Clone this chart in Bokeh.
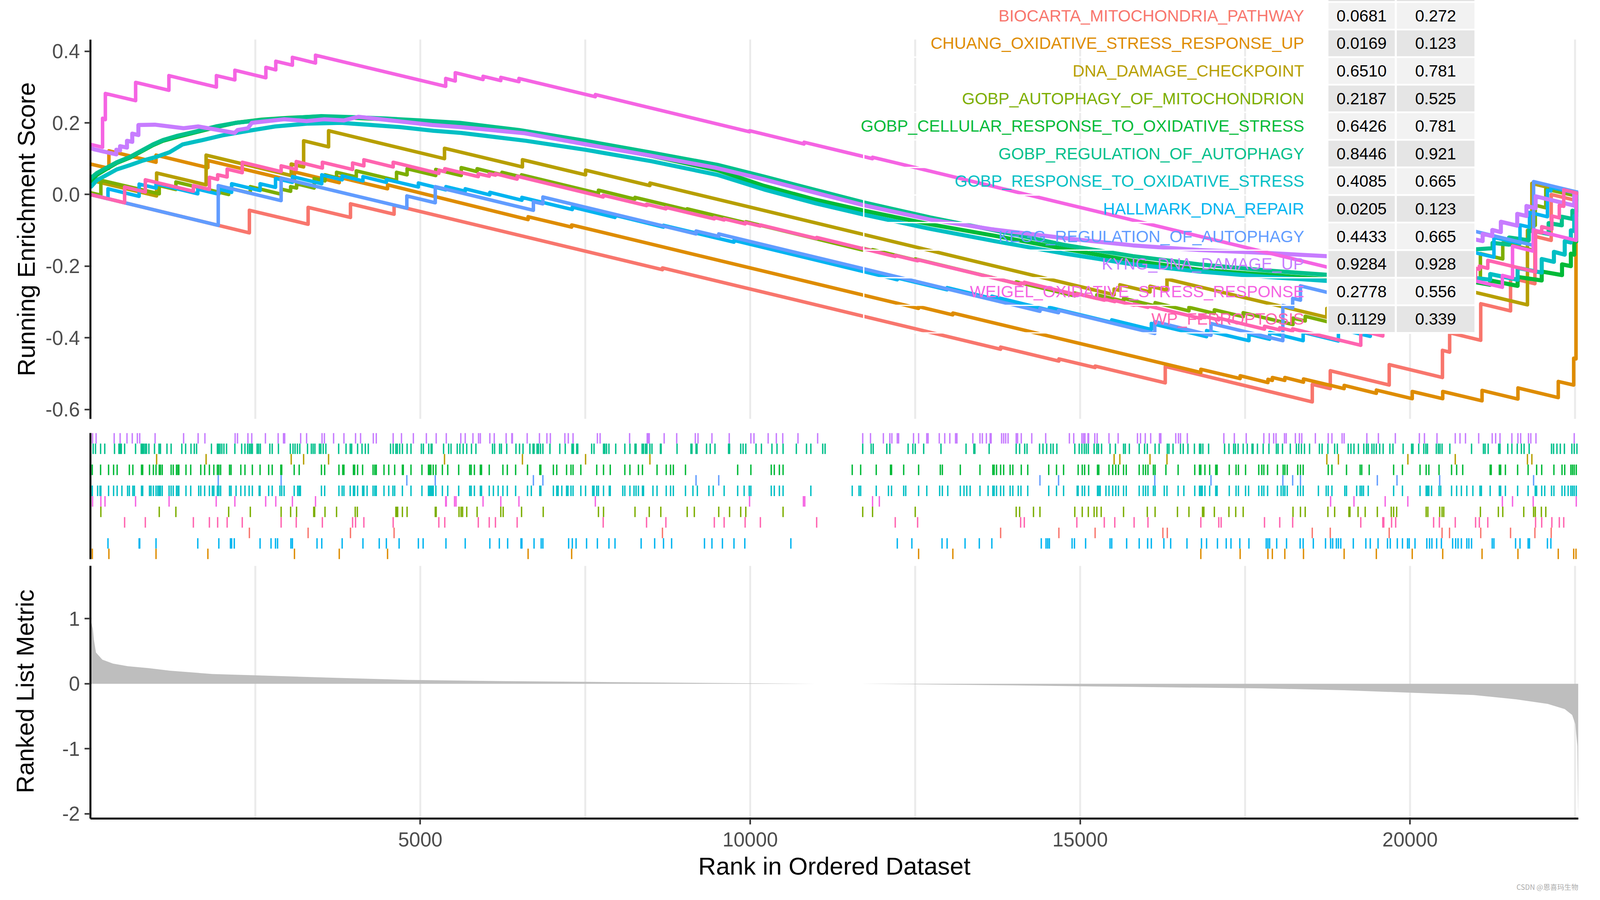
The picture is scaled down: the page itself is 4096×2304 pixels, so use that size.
import math
from bokeh.plotting import figure
from bokeh.layouts import row, column
from bokeh.models import Range1d, FixedTicker, Title, BasicTickFormatter
from bokeh.embed import file_html
from bokeh.resources import INLINE
from bokeh.core.properties import value

FONT = "Liberation Sans"

# ------------------------------------------------------------------ data
N_GENES = 22550

GENE_SETS = [
    "BIOCARTA_MITOCHONDRIA_PATHWAY",
    "CHUANG_OXIDATIVE_STRESS_RESPONSE_UP",
    "DNA_DAMAGE_CHECKPOINT",
    "GOBP_AUTOPHAGY_OF_MITOCHONDRION",
    "GOBP_CELLULAR_RESPONSE_TO_OXIDATIVE_STRESS",
    "GOBP_REGULATION_OF_AUTOPHAGY",
    "GOBP_RESPONSE_TO_OXIDATIVE_STRESS",
    "HALLMARK_DNA_REPAIR",
    "KEGG_REGULATION_OF_AUTOPHAGY",
    "KYNG_DNA_DAMAGE_UP",
    "WEIGEL_OXIDATIVE_STRESS_RESPONSE",
    "WP_FERROPTOSIS",
]
SET_COLORS = ["#F8766D", "#DE8C00", "#B79F00", "#7CAE00", "#00BA38", "#00C08B",
              "#00BFC4", "#00B4F0", "#619CFF", "#C77CFF", "#F564E3", "#FF64B0"]
PVALUES = ["0.0681", "0.0169", "0.6510", "0.2187", "0.6426", "0.8446",
           "0.4085", "0.0205", "0.4433", "0.9284", "0.2778", "0.1129"]
PADJUST = ["0.272", "0.123", "0.781", "0.525", "0.781", "0.921",
           "0.665", "0.123", "0.665", "0.928", "0.556", "0.339"]
# gene sets with many hits draw as a dense (thicker, fuzzy) band
DENSE_SETS = [4, 5, 6, 9]

# running enrichment score vertices (rank, ES)
ES_BIOCARTA = [(1, 0.0), (2410, -0.107), (2410, -0.044), (3300, -0.083), (3300, -0.036),
    (3942, -0.064), (3942, -0.026), (4603, -0.055), (4603, -0.030), (8670, -0.210), (8670, -0.205),
    (13795, -0.432), (13795, -0.426), (14678, -0.465), (14678, -0.459), (15227, -0.483), (15227, -0.479),
    (16290, -0.526), (16290, -0.480), (18518, -0.579), (18518, -0.530), (18791, -0.542), (18791, -0.492),
    (19684, -0.532), (19684, -0.475), (20491, -0.511), (20491, -0.435), (20600, -0.440), (20600, -0.386),
    (21071, -0.407), (21071, -0.305), (21523, -0.325), (21523, -0.233), (21892, -0.249), (21892, -0.117),
    (22139, -0.128), (22139, 0.0), (22550, -0.018)]
ES_CHUANG = [(1, 0.085), (281, 0.073), (281, 0.122), (995, 0.090), (995, 0.110), (1781, 0.075),
    (1781, 0.095), (3093, 0.037), (3093, 0.063), (3772, 0.033), (3772, 0.048), (4504, 0.016), (4504, 0.027),
    (6634, -0.070), (6634, -0.062), (7294, -0.091), (7294, -0.085), (12552, -0.318), (12552, -0.313),
    (13071, -0.336), (13071, -0.331), (16829, -0.497), (16829, -0.488), (17425, -0.514), (17425, -0.506),
    (17846, -0.525), (17846, -0.516), (17913, -0.519), (17913, -0.511), (18102, -0.519), (18102, -0.511),
    (18385, -0.524), (18385, -0.515), (19001, -0.542), (19001, -0.533), (19489, -0.555), (19489, -0.546),
    (20033, -0.570), (20033, -0.550), (20495, -0.570), (20495, -0.550), (21091, -0.576), (21091, -0.547),
    (21635, -0.571), (21635, -0.540), (22246, -0.567), (22246, -0.522), (22480, -0.532), (22480, -0.457),
    (22515, -0.459), (22515, -0.010), (22550, -0.010)]
ES_DNA_DAMAGE = [(1, 0.040), (1004, -0.004), (1004, 0.060), (1754, 0.027), (1754, 0.110),
    (3044, 0.053), (3044, 0.085), (3232, 0.077), (3232, 0.150), (3610, 0.133), (3610, 0.178),
    (5367, 0.100), (5367, 0.129), (6548, 0.077), (6548, 0.097), (7505, 0.055), (7505, 0.068),
    (8480, 0.025), (8480, 0.032), (15515, -0.280), (15515, -0.264), (15602, -0.268), (15602, -0.252),
    (16059, -0.272), (16059, -0.256), (16316, -0.267), (16316, -0.236), (18739, -0.343), (18739, -0.318),
    (18914, -0.326), (18914, -0.300), (19967, -0.347), (19967, -0.300), (20685, -0.332), (20685, -0.260),
    (21779, -0.308), (21779, -0.100), (21846, -0.103), (21846, 0.031), (22550, 0.0)]
ES_AUTOPHAGY_MITO = [(1, 0.005), (159, -0.002), (159, 0.040), (1044, 0.002), (1044, 0.025),
    (1296, 0.014), (1296, 0.035), (2096, 0.000), (2096, 0.018), (2424, 0.004), (2424, 0.022),
    (2891, 0.001), (2891, 0.015), (3035, 0.009), (3035, 0.022), (3125, 0.018), (3125, 0.030),
    (3392, 0.018), (3392, 0.045), (3556, 0.038), (3556, 0.055), (3731, 0.047), (3731, 0.062),
    (4030, 0.049), (4030, 0.066), (4640, 0.039), (4640, 0.062), (4800, 0.055), (4800, 0.072),
    (5234, 0.053), (5234, 0.070), (5620, 0.053), (5620, 0.075), (5861, 0.064), (5861, 0.072),
    (6238, 0.055), (6238, 0.062), (6535, 0.049), (6535, 0.055), (7700, 0.003), (7700, 0.012),
    (8254, -0.013), (8254, -0.008), (9045, -0.043), (9045, -0.040), (9933, -0.079), (9933, -0.076),
    (11705, -0.155), (11705, -0.150), (11854, -0.157), (11854, -0.154), (12501, -0.183), (12501, -0.180),
    (14031, -0.248), (14031, -0.244), (14919, -0.283), (14919, -0.275), (15253, -0.290), (15253, -0.280),
    (15658, -0.298), (15658, -0.290), (16136, -0.311), (16136, -0.302), (16649, -0.325), (16649, -0.315),
    (17034, -0.332), (17034, -0.322), (17471, -0.341), (17471, -0.330), (18226, -0.363), (18226, -0.345),
    (18411, -0.353), (18411, -0.340), (18857, -0.360), (18857, -0.335), (19212, -0.351), (19212, -0.320),
    (19504, -0.333), (19504, -0.300), (19797, -0.313), (19797, -0.280), (20270, -0.301), (20270, -0.255),
    (20511, -0.266), (20511, -0.215), (21066, -0.240), (21066, -0.165), (21405, -0.180), (21405, -0.135),
    (21872, -0.156), (21872, -0.085), (21898, -0.086), (21898, -0.030), (22057, -0.037), (22057, 0.015),
    (22550, -0.005)]
ES_CELLULAR = [(1, 0.035), (100, 0.055), (250, 0.072), (400, 0.088), (600, 0.103), (800, 0.123),
    (950, 0.138), (1100, 0.150), (1300, 0.160), (1600, 0.174), (1900, 0.188), (2200, 0.200),
    (2600, 0.209), (3000, 0.214), (3500, 0.218), (4000, 0.214), (4500, 0.210), (5000, 0.205),
    (5600, 0.196), (6500, 0.175), (7500, 0.143), (8500, 0.108), (9500, 0.068), (10211, 0.024),
    (11000, -0.015), (11720, -0.045), (12727, -0.083), (13700, -0.115), (14768, -0.152),
    (15800, -0.185), (16800, -0.210), (17817, -0.224), (18732, -0.236), (19500, -0.245),
    (20200, -0.248), (20998, -0.245), (21214, -0.252), (21214, -0.240), (21630, -0.255), (21630, -0.230),
    (21995, -0.240), (21995, -0.215), (22303, -0.225), (22303, -0.195), (22437, -0.200), (22437, -0.165),
    (22488, -0.168), (22488, -0.130), (22519, -0.131), (22519, 0.002), (22550, 0.0)]
ES_REG_AUTOPHAGY = [(1, 0.045), (100, 0.060), (250, 0.075), (400, 0.090), (600, 0.105), (800, 0.125),
    (950, 0.140), (1100, 0.152), (1300, 0.163), (1600, 0.176), (1900, 0.190), (2200, 0.200),
    (2600, 0.208), (3000, 0.213), (3500, 0.219), (4000, 0.216), (4500, 0.212), (5000, 0.207),
    (5600, 0.200), (6500, 0.180), (7500, 0.150), (8500, 0.117), (9500, 0.083), (10211, 0.050),
    (11000, 0.012), (11720, -0.022), (12727, -0.064), (13700, -0.100), (14768, -0.141),
    (15800, -0.172), (16800, -0.195), (17817, -0.212), (18732, -0.224), (19500, -0.228),
    (20200, -0.195), (20998, -0.153), (21250, -0.150), (21250, -0.135), (21500, -0.140), (21500, -0.120),
    (21800, -0.128), (21800, -0.100), (22100, -0.110), (22100, -0.080), (22300, -0.086), (22300, -0.062),
    (22460, -0.068), (22460, -0.045), (22520, -0.048), (22520, 0.003), (22550, 0.0)]
ES_RESPONSE = [(1, 0.020), (100, 0.040), (250, 0.055), (400, 0.070), (600, 0.082), (800, 0.095),
    (1000, 0.105), (1200, 0.118), (1400, 0.140), (1700, 0.152), (2000, 0.165), (2400, 0.178),
    (2800, 0.190), (3300, 0.198), (3800, 0.200), (4200, 0.195), (4700, 0.188), (5200, 0.178),
    (5619, 0.172), (6600, 0.150), (7500, 0.125), (8500, 0.093), (9500, 0.055), (10211, 0.014),
    (11000, -0.025), (11720, -0.056), (12727, -0.096), (13700, -0.130), (14768, -0.165),
    (15800, -0.195), (16800, -0.215), (17817, -0.230), (18732, -0.241), (19500, -0.250),
    (20200, -0.245), (20998, -0.233), (21214, -0.238), (21214, -0.222), (21630, -0.238), (21630, -0.205),
    (21995, -0.218), (21995, -0.180), (22180, -0.188), (22180, -0.160), (22344, -0.168), (22344, -0.130),
    (22437, -0.134), (22437, -0.100), (22488, -0.102), (22488, -0.060), (22519, -0.061), (22519, 0.002),
    (22550, 0.0)]
ES_HALLMARK = [(1, 0.0), (267, -0.012), (267, 0.016), (739, -0.005), (739, 0.029), (995, 0.018),
    (995, 0.030), (1628, 0.002), (1628, 0.015), (1947, 0.001), (1947, 0.015), (2141, 0.006),
    (2141, 0.030), (2572, 0.011), (2572, 0.030), (2806, 0.020), (2806, 0.045), (3062, 0.034),
    (3062, 0.050), (3507, 0.030), (3507, 0.055), (3816, 0.041), (3816, 0.052), (4131, 0.038),
    (4131, 0.050), (4486, 0.034), (4486, 0.042), (4971, 0.021), (4971, 0.032), (5389, 0.013),
    (5389, 0.022), (5681, 0.009), (5681, 0.016), (6054, -0.001), (6054, 0.006), (6540, -0.016),
    (6540, -0.008), (7304, -0.042), (7304, -0.035), (7951, -0.064), (7951, -0.058), (8686, -0.091),
    (8686, -0.086), (9754, -0.133), (9754, -0.128), (12229, -0.238), (12229, -0.233), (12984, -0.266),
    (12984, -0.260), (13662, -0.290), (13662, -0.284), (14534, -0.323), (14534, -0.315),
    (15479, -0.357), (15479, -0.350), (16079, -0.377), (16079, -0.360), (16916, -0.397), (16916, -0.380),
    (17558, -0.408), (17558, -0.390), (17872, -0.404), (17872, -0.385), (18380, -0.408), (18380, -0.385),
    (18914, -0.409), (18914, -0.375), (19397, -0.396), (19397, -0.350), (19885, -0.372), (19885, -0.320),
    (20331, -0.340), (20331, -0.280), (20727, -0.298), (20727, -0.235), (20932, -0.244), (20932, -0.160),
    (21271, -0.175), (21271, -0.120), (21666, -0.137), (21666, -0.085), (21810, -0.091), (21810, -0.050),
    (22082, -0.062), (22082, 0.012), (22134, 0.010), (22134, 0.020), (22550, 0.002)]
ES_KEGG = [(1, 0.0), (1938, -0.086), (1938, 0.025), (2891, -0.017), (2891, 0.046), (4796, -0.038),
    (4796, -0.004), (5227, -0.023), (5227, 0.022), (6714, -0.044), (6714, -0.020), (6858, -0.026),
    (6858, -0.007), (9179, -0.110), (9179, -0.102), (9523, -0.117), (9523, -0.110), (14391, -0.326),
    (14391, -0.318), (14673, -0.330), (14673, -0.323), (16131, -0.388), (16131, -0.355),
    (16983, -0.393), (16983, -0.360), (18072, -0.408), (18072, -0.310), (18221, -0.317), (18221, -0.290),
    (18339, -0.295), (18339, -0.255), (19504, -0.307), (19504, -0.240), (19802, -0.253), (19802, -0.170),
    (20449, -0.199), (20449, -0.079), (21872, -0.142), (21872, 0.036), (22550, 0.006)]
ES_KYNG = [(1, 0.130), (60, 0.126), (394, 0.112), (394, 0.125), (450, 0.123), (450, 0.135),
    (555, 0.131), (555, 0.150), (635, 0.147), (635, 0.170), (728, 0.166), (728, 0.194), (978, 0.195),
    (1413, 0.185), (1633, 0.190), (2187, 0.172), (2230, 0.180), (2388, 0.185), (2446, 0.200),
    (2938, 0.210), (3277, 0.205), (3547, 0.210), (3843, 0.207), (4064, 0.217), (4500, 0.208),
    (5182, 0.194), (5619, 0.188), (6581, 0.171), (7543, 0.139), (8506, 0.108), (9468, 0.075),
    (10211, 0.042), (11720, -0.030), (12727, -0.070), (13700, -0.098), (14768, -0.122),
    (15800, -0.142), (16800, -0.155), (17817, -0.163), (18732, -0.172), (19500, -0.170),
    (20200, -0.150), (20998, -0.126), (21100, -0.130), (21100, -0.110), (21246, -0.116), (21246, -0.099),
    (21376, -0.105), (21376, -0.076), (21624, -0.087), (21624, -0.054), (21764, -0.060), (21764, -0.032),
    (21903, -0.038), (21903, -0.005), (22488, -0.031), (22488, 0.001), (22550, -0.002)]
ES_WEIGEL = [(1, 0.140), (185, 0.132), (185, 0.213), (227, 0.209), (227, 0.282), (686, 0.262),
    (686, 0.313), (1190, 0.291), (1190, 0.332), (1910, 0.300), (1910, 0.332), (2190, 0.320),
    (2190, 0.347), (2660, 0.326), (2660, 0.355), (2810, 0.348), (2810, 0.372), (3062, 0.361),
    (3062, 0.383), (3412, 0.367), (3412, 0.389), (5385, 0.302), (5385, 0.324), (5530, 0.317),
    (5530, 0.340), (5951, 0.321), (5951, 0.330), (6220, 0.318), (6220, 0.327), (6495, 0.315),
    (6495, 0.324), (7653, 0.273), (7653, 0.279), (9990, 0.175), (9990, 0.178), (10816, 0.141),
    (10816, 0.146), (11854, 0.100), (11854, 0.104), (18796, -0.205), (18796, -0.190), (19150, -0.206),
    (19150, -0.190), (19623, -0.211), (19623, -0.195), (19966, -0.210), (19966, -0.196),
    (21399, -0.259), (21399, -0.226), (21553, -0.233), (21553, -0.144), (21866, -0.158), (21866, -0.099),
    (22519, -0.128), (22519, 0.001), (22550, 0.0)]
ES_WP = [(1, 0.0), (519, -0.023), (519, 0.021), (833, 0.007), (833, 0.041), (1561, 0.009),
    (1561, 0.025), (1804, 0.014), (1804, 0.048), (1929, 0.042), (1929, 0.055), (2073, 0.049),
    (2073, 0.071), (2302, 0.061), (2302, 0.090), (2891, 0.064), (2891, 0.080), (3120, 0.070),
    (3120, 0.092), (3516, 0.074), (3516, 0.090), (3974, 0.070), (3974, 0.088), (4145, 0.080),
    (4145, 0.097), (4589, 0.077), (4589, 0.090), (5281, 0.059), (5281, 0.068), (5371, 0.064),
    (5371, 0.072), (5879, 0.050), (5879, 0.058), (6045, 0.051), (6045, 0.058), (6139, 0.054),
    (6139, 0.058), (6468, 0.043), (6468, 0.051), (7772, -0.007), (7772, -0.002), (8429, -0.031),
    (8429, -0.027), (8722, -0.040), (8722, -0.036), (9456, -0.068), (9456, -0.064), (9605, -0.071),
    (9605, -0.068), (9923, -0.082), (9923, -0.078), (10154, -0.088), (10154, -0.085), (11007, -0.123),
    (11007, -0.120), (12198, -0.173), (12198, -0.170), (12537, -0.185), (12537, -0.182),
    (14098, -0.251), (14098, -0.247), (14154, -0.249), (14154, -0.245), (14950, -0.280), (14950, -0.277),
    (15366, -0.295), (15366, -0.292), (15525, -0.299), (15525, -0.296), (15818, -0.309), (15818, -0.306),
    (16028, -0.315), (16028, -0.311), (16829, -0.346), (16829, -0.338), (17101, -0.350), (17101, -0.345),
    (17794, -0.376), (17794, -0.368), (18025, -0.378), (18025, -0.372), (18221, -0.381), (18221, -0.375),
    (19253, -0.421), (19253, -0.380), (19587, -0.395), (19587, -0.350), (19602, -0.351), (19602, -0.330),
    (19720, -0.335), (19720, -0.300), (19782, -0.303), (19782, -0.280), (20357, -0.305), (20357, -0.260),
    (20444, -0.264), (20444, -0.240), (20685, -0.251), (20685, -0.220), (20993, -0.234), (20993, -0.206),
    (21050, -0.209), (21050, -0.200), (21178, -0.206), (21178, -0.184), (21902, -0.216), (21902, -0.103),
    (21995, -0.107), (21995, -0.090), (22149, -0.097), (22149, -0.060), (22262, -0.065), (22262, -0.030),
    (22329, -0.033), (22329, 0.013), (22550, 0.003)]

ES_CURVES = [ES_BIOCARTA, ES_CHUANG, ES_DNA_DAMAGE, ES_AUTOPHAGY_MITO, ES_CELLULAR, ES_REG_AUTOPHAGY,
             ES_RESPONSE, ES_HALLMARK, ES_KEGG, ES_KYNG, ES_WEIGEL, ES_WP]

# gene-set hit positions (rug)
HITS_BIOCARTA = [2410, 3300, 3942, 4603, 8670, 13795, 14678, 15227, 16254, 16321, 18518, 18791, 19684,
    20485, 20598, 21071, 21523, 21892, 22139]
HITS_CHUANG = [30, 281, 995, 1781, 3093, 3772, 4504, 6634, 7294, 12552, 13071, 16829, 17425, 17846,
    17913, 18102, 18385, 19001, 19489, 20033, 20495, 21091, 21635, 22246, 22480, 22515]
HITS_DNA_DAMAGE = [1004, 1754, 3044, 3232, 3610, 5367, 6548, 7505, 8480, 15515, 15602, 16059, 16316,
    18739, 18914, 19967, 20685, 21779, 21846]
HITS_AUTOPHAGY_MITO = [159, 1044, 1296, 2096, 2424, 2891, 3035, 3125, 3385, 3399, 3556, 3731, 4014, 4046,
    4630, 4643, 4657, 4729, 4800, 5227, 5241, 5587, 5618, 5641, 5704, 5861, 6220, 6256, 6535, 6863, 7700,
    7777, 8254, 8470, 8645, 9045, 9153, 9523, 9687, 9856, 9933, 10498, 11705, 11854, 12501, 14031, 14083,
    14293, 14391, 14919, 15032, 15124, 15212, 15253, 15319, 15658, 16018, 16136, 16475, 16649, 16855,
    16875, 17034, 17255, 17358, 17471, 18226, 18339, 18411, 18755, 18857, 19073, 19089, 19212, 19320,
    19504, 19715, 19751, 19797, 20244, 20270, 20449, 20485, 20511, 21066, 21338, 21405, 21723, 21872,
    21898, 21990, 22057]
HITS_CELLULAR = [29, 155, 276, 352, 406, 591, 644, 775, 793, 896, 955, 995, 1044, 1062, 1089, 1224, 1256,
    1305, 1327, 1341, 1449, 1521, 1673, 1732, 1804, 1871, 1925, 1947, 1974, 2109, 2132, 2280, 2343, 2455,
    2572, 2702, 2756, 2886, 2900, 3089, 3165, 3502, 3551, 3767, 3825, 3843, 3987, 4005, 4050, 4126, 4284,
    4311, 4333, 4450, 4522, 4612, 4729, 4742, 4859, 5025, 5124, 5142, 5160, 5196, 5236, 5335, 5416, 5582,
    5749, 5771, 5820, 5910, 5928, 6045, 6252, 6319, 6445, 6625, 6811, 6827, 7017, 7068, 7217, 7284, 7315,
    7433, 7674, 7777, 7879, 8100, 8177, 8306, 8367, 8588, 8727, 8793, 8835, 9019, 9810, 10010, 10319,
    10365, 10442, 10498, 11546, 11674, 11910, 12126, 12142, 12326, 12552, 12881, 12912, 13184, 13482,
    13677, 13697, 13733, 13795, 13841, 13939, 13980, 14108, 14206, 14524, 14642, 14749, 14970, 15032,
    15068, 15129, 15263, 15283, 15437, 15494, 15540, 15581, 15658, 15699, 15895, 15956, 15992, 16028,
    16110, 16136, 16300, 16485, 16737, 16809, 16829, 16891, 16963, 17055, 17076, 17260, 17363, 17399,
    17507, 17707, 17753, 17784, 17841, 17990, 18077, 18103, 18139, 18298, 18339, 18380, 18760, 18816,
    19037, 19243, 19268, 19381, 19751, 19885, 20151, 20244, 20285, 20439, 20629, 20706, 20798, 21214,
    21230, 21353, 21373, 21445, 21630, 21789, 21918, 21995, 22180, 22303, 22344, 22437, 22462, 22488,
    22519]
HITS_REG_AUTOPHAGY = [42, 78, 155, 218, 366, 433, 451, 469, 519, 685, 770, 788, 806, 829, 851, 887, 972,
    1040, 1062, 1161, 1224, 1386, 1444, 1525, 1575, 1610, 1835, 1925, 1943, 1965, 1992, 2024, 2064, 2190,
    2293, 2343, 2383, 2410, 2433, 2455, 2527, 2550, 2576, 2720, 2756, 2850, 3030, 3071, 3102, 3138, 3174,
    3291, 3349, 3376, 3403, 3471, 3493, 3529, 3569, 3763, 3875, 3938, 3960, 4050, 4117, 4167, 4212, 4549,
    4589, 4630, 4652, 4688, 4729, 4800, 4859, 5016, 5047, 5128, 5164, 5178, 5353, 5430, 5466, 5560, 5600,
    5650, 5704, 5776, 5843, 6095, 6126, 6202, 6229, 6310, 6450, 6504, 6557, 6661, 6709, 6724, 6770, 6791,
    6822, 6858, 6965, 7114, 7197, 7299, 7320, 7371, 7386, 7597, 7633, 7777, 7797, 7823, 7859, 7962, 8100,
    8177, 8254, 8270, 8362, 8383, 8413, 8434, 8480, 8511, 8639, 8650, 8891, 9102, 9117, 9179, 9194, 9338,
    9394, 9466, 9672, 9687, 9856, 9892, 9933, 10088, 10170, 10329, 10406, 10498, 10699, 10853, 10919,
    11099, 11135, 11705, 11833, 11864, 12070, 12116, 12393, 12465, 12501, 12629, 12891, 13271, 13389,
    13405, 13621, 14031, 14083, 14160, 14195, 14385, 14437, 14493, 14555, 14591, 14647, 14919, 14986,
    15027, 15063, 15093, 15124, 15212, 15253, 15278, 15325, 15453, 15535, 15658, 15684, 15746, 15895,
    15977, 16018, 16136, 16197, 16321, 16346, 16408, 16521, 16562, 16634, 16732, 16809, 16829, 16860,
    16947, 17189, 17255, 17327, 17353, 17394, 17471, 17533, 17605, 17620, 17687, 17774, 17861, 17974,
    18000, 18067, 18185, 18277, 18313, 18354, 18400, 18477, 18626, 18667, 18755, 18857, 18898, 19063,
    19104, 19150, 19217, 19299, 19340, 19366, 19422, 19453, 19489, 19540, 19592, 19694, 19741, 19895,
    20023, 20044, 20131, 20208, 20239, 20264, 20398, 20429, 20454, 20485, 20603, 20932, 21112, 21137,
    21184, 21343, 21363, 21481, 21543, 21625, 21687, 21728, 21805, 22144, 22175, 22226, 22277, 22339,
    22452, 22488, 22529]
HITS_RESPONSE = [29, 110, 146, 159, 276, 352, 406, 478, 564, 591, 644, 667, 775, 793, 896, 919, 955, 995,
    1022, 1044, 1062, 1089, 1193, 1224, 1256, 1305, 1327, 1341, 1449, 1521, 1642, 1673, 1732, 1804, 1849,
    1871, 1925, 1947, 1974, 2109, 2132, 2208, 2280, 2343, 2406, 2455, 2558, 2572, 2702, 2756, 2873, 2900,
    2936, 3089, 3142, 3165, 3183, 3502, 3551, 3767, 3816, 3843, 3938, 3987, 4005, 4050, 4126, 4145, 4194,
    4284, 4311, 4333, 4450, 4522, 4585, 4612, 4729, 4859, 5025, 5124, 5142, 5160, 5178, 5196, 5236, 5335,
    5416, 5582, 5749, 5771, 5820, 5910, 5928, 6045, 6108, 6180, 6252, 6319, 6445, 6625, 6683, 6811, 6827,
    7017, 7068, 7089, 7145, 7217, 7238, 7284, 7315, 7433, 7505, 7612, 7633, 7674, 7700, 7777, 7864, 7879,
    8069, 8100, 8177, 8239, 8270, 8306, 8367, 8383, 8526, 8588, 8727, 8793, 8835, 9019, 9132, 9199, 9374,
    9440, 9605, 9810, 9908, 9985, 10010, 10319, 10365, 10442, 10498, 10919, 11546, 11649, 11674, 11910,
    12095, 12142, 12326, 12357, 12552, 12676, 12871, 12912, 12994, 13184, 13240, 13282, 13333, 13482,
    13605, 13677, 13697, 13733, 13795, 13841, 13939, 13980, 14062, 14103, 14206, 14524, 14642, 14749,
    14955, 14970, 15032, 15068, 15129, 15263, 15283, 15304, 15391, 15437, 15494, 15540, 15581, 15658,
    15699, 15895, 15956, 15992, 16028, 16110, 16136, 16275, 16316, 16485, 16572, 16737, 16809, 16829,
    16850, 16891, 16963, 17055, 17076, 17260, 17363, 17399, 17507, 17553, 17707, 17753, 17784, 17841,
    17990, 18046, 18077, 18103, 18139, 18298, 18339, 18380, 18611, 18729, 18760, 18816, 19011, 19037,
    19191, 19243, 19268, 19294, 19366, 19751, 19885, 20151, 20244, 20264, 20285, 20326, 20439, 20465,
    20629, 20706, 20778, 20860, 20952, 21060, 21081, 21214, 21353, 21373, 21445, 21630, 21789, 21897,
    21918, 21995, 22041, 22144, 22180, 22303, 22344, 22396, 22437, 22462, 22488, 22519]
HITS_HALLMARK = [267, 739, 748, 995, 1628, 1947, 2123, 2141, 2181, 2572, 2738, 2806, 2837, 3039, 3062,
    3435, 3507, 3816, 4131, 4378, 4486, 4679, 4971, 5043, 5389, 5681, 6054, 6198, 6324, 6526, 6540, 6724,
    6832, 6858, 7248, 7304, 7361, 7520, 7684, 7859, 7951, 8347, 8552, 8686, 8809, 9307, 9420, 9579, 9754,
    9918, 10616, 12229, 12450, 12907, 12984, 13256, 13472, 13662, 14411, 14483, 14509, 14534, 14878,
    14914, 15083, 15453, 15479, 15705, 15895, 16023, 16079, 16269, 16372, 16619, 16839, 16916, 17081,
    17214, 17286, 17420, 17558, 17820, 17846, 17872, 17979, 18128, 18334, 18380, 18534, 18719, 18796,
    18827, 18883, 18914, 18950, 19140, 19330, 19397, 19515, 19658, 19700, 19807, 19885, 19962, 19987,
    20075, 20254, 20295, 20331, 20403, 20475, 20645, 20691, 20727, 20778, 20860, 20891, 20932, 21245,
    21271, 21599, 21666, 21789, 21810, 22082, 22134]
HITS_KEGG = [1938, 2891, 4796, 5227, 6714, 6858, 9179, 9523, 14391, 14673, 16131, 16983, 18072, 18221,
    18339, 19504, 19802, 20449, 21872]
HITS_KYNG = [33, 87, 361, 451, 555, 635, 712, 748, 981, 1413, 1633, 1736, 2194, 2230, 2388, 2446, 2653,
    2846, 2927, 2945, 3187, 3277, 3511, 3547, 3686, 3843, 4019, 4095, 4288, 4333, 4589, 4715, 4895, 5092,
    5241, 5394, 5614, 5681, 5798, 5883, 5910, 6054, 6121, 6301, 6387, 6396, 6620, 6806, 6919, 6971, 7191,
    7243, 7315, 7684, 7725, 8172, 8439, 8455, 8470, 8696, 8886, 9168, 9209, 9420, 9682, 10010, 10057,
    10272, 10396, 10493, 10724, 11022, 11705, 11823, 12018, 12116, 12147, 12229, 12249, 12475, 12552,
    12676, 12696, 12865, 12948, 13025, 13112, 13133, 13374, 13482, 13518, 13579, 13636, 13651, 13810,
    13841, 13872, 13908, 14031, 14052, 14108, 14267, 14478, 14837, 14903, 15027, 15052, 15073, 15119,
    15129, 15222, 15258, 15437, 15576, 15869, 15915, 15987, 16069, 16203, 16223, 16449, 16490, 16521,
    16624, 17178, 17337, 17517, 17784, 17866, 17933, 17969, 18097, 18123, 18262, 18323, 18359, 18565,
    18760, 18816, 18970, 19001, 19345, 19520, 19777, 20141, 20218, 20408, 20685, 20757, 20840, 21040,
    21245, 21297, 21363, 21543, 21635, 21676, 21795, 21830, 21908, 22488]
HITS_WEIGEL = [33, 159, 222, 685, 1193, 1907, 2190, 2657, 2810, 3062, 3412, 5385, 5394, 5519, 5542, 5951,
    6220, 6495, 7653, 9990, 10806, 10827, 11854, 11957, 18796, 19150, 19623, 19966, 21399, 21553, 21866,
    22519]
HITS_WP = [519, 833, 1561, 1804, 1929, 2073, 2302, 2891, 3120, 3516, 3974, 4019, 4145, 4589, 5281, 5371,
    5879, 6045, 6139, 6468, 7772, 8429, 8722, 9456, 9605, 9923, 10154, 11007, 12198, 12537, 14098, 14154,
    14950, 15366, 15525, 15818, 16028, 16829, 17101, 17137, 17794, 18025, 18221, 19253, 19587, 19602,
    19720, 19782, 20357, 20444, 20685, 20993, 21050, 21178, 21902, 21995, 22149, 22262, 22329]

HITS = [HITS_BIOCARTA, HITS_CHUANG, HITS_DNA_DAMAGE, HITS_AUTOPHAGY_MITO, HITS_CELLULAR,
        HITS_REG_AUTOPHAGY, HITS_RESPONSE, HITS_HALLMARK, HITS_KEGG, HITS_KYNG, HITS_WEIGEL, HITS_WP]
# rug rows from top to bottom (indices into GENE_SETS)
RUG_ORDER = [9, 5, 2, 4, 8, 6, 10, 3, 11, 0, 7, 1]

# ranked list metric (rank, value)
METRIC_RANK = [1, 37, 53, 85, 182, 342, 567, 887, 1208, 1850, 2492, 3672, 4800, 6300, 7900, 9500,
               10980, 11684, 12500, 14000, 15500, 17756, 19000, 20001, 20964, 21606, 22087, 22344,
               22456, 22504, 22536, 22546, 22550]
METRIC_VALUE = [1.0, 0.85, 0.68, 0.48, 0.37, 0.31, 0.27, 0.24, 0.20, 0.15, 0.13, 0.092, 0.06, 0.04,
                0.025, 0.012, 0.0, 0.0, -0.008, -0.025, -0.045, -0.071, -0.10, -0.138, -0.173, -0.24,
                -0.31, -0.39, -0.48, -0.62, -0.96, -1.91, -2.0]

ES_TICKS = [-0.6, -0.4, -0.2, 0.0, 0.2, 0.4]
ES_TICK_LABELS = ["-0.6", "-0.4", "-0.2", "0.0", "0.2", "0.4"]
METRIC_TICKS = [-2, -1, 0, 1]
METRIC_TICK_LABELS = ["-2", "-1", "0", "1"]
RANK_TICKS = [5000, 10000, 15000, 20000]
GRID_RANKS = [2500, 5000, 7500, 10000, 12500, 15000, 17500, 20000, 22500]

# ------------------------------------------------------------------ layout
TOTAL_W, TOTAL_H = 4080, 2288
TITLE_W = 110
MAIN_W = TOTAL_W - TITLE_W
BORDER_L, BORDER_R = 121, 40
SX = TOTAL_W / 4800.0
SY = TOTAL_H / 2700.0

# calibration of the reference picture (used only for annotation placement)
def rank_at(px):
    return (px - 270.0) * 5000.0 / 994.0

def es_at(py):
    return (587.0 - py) / 1082.0

def metric_at(py):
    return (2065.0 - py) / 196.3

x_range = Range1d(1, N_GENES)
AXIS_COLOR = "black"


def make_fig(height, y_range, mb_top, mb_bottom, x_axis=False):
    p = figure(width=MAIN_W, height=height, x_range=x_range, y_range=y_range,
               toolbar_location=None, output_backend="svg",
               x_axis_location="below" if x_axis else None, y_axis_location="left",
               min_border_left=BORDER_L, min_border_right=BORDER_R,
               min_border_top=mb_top, min_border_bottom=mb_bottom)
    p.outline_line_color = None
    p.background_fill_color = "white"
    p.border_fill_color = "white"
    p.grid.visible = False
    return p


def style_axis(ax, ticks, labels, standoff):
    ax.ticker = FixedTicker(ticks=ticks)
    ax.major_label_overrides = {t: l for t, l in zip(ticks, labels)}
    ax.major_label_text_font = FONT
    ax.major_label_text_font_size = "51px"
    ax.major_label_text_color = "#4D4D4D"
    ax.major_label_standoff = standoff
    ax.axis_line_color = AXIS_COLOR
    ax.axis_line_width = 5
    ax.major_tick_line_color = "#333333"
    ax.major_tick_line_width = 4
    ax.major_tick_out = 15
    ax.major_tick_in = 0
    ax.minor_tick_line_color = None


# ---------------- top panel: running enrichment score + table
top_lo, top_hi = es_at(1265), es_at(0)
f_top = make_fig(1090, Range1d(top_lo, top_hi), 0, 18)
ya = f_top.yaxis[0]
style_axis(ya, ES_TICKS, ES_TICK_LABELS, 12)
ya.formatter = BasicTickFormatter(precision=1)
ya.bounds = (top_lo, es_at(119))

f_top.segment(x0=GRID_RANKS, y0=[top_lo] * len(GRID_RANKS), x1=GRID_RANKS,
              y1=[es_at(119)] * len(GRID_RANKS), line_color="#EBEBEB", line_width=5)

for i, (curve, col) in enumerate(zip(ES_CURVES, SET_COLORS)):
    f_top.line([v[0] for v in curve], [v[1] for v in curve], line_color=col,
               line_width=10.5 if i in DENSE_SETS else 9, line_join="round")

# table (tableGrob-like), partially above the panel
n_rows = len(GENE_SETS)
pitch = 83.3
bounds_y = [5.4 + pitch * k for k in range(n_rows + 1)]
lab_left, lab_right_text, cell_l = 2600, 3927, 3997
f_top.segment(x0=[rank_at(lab_left)] * len(bounds_y), y0=[es_at(b) for b in bounds_y],
              x1=[rank_at(cell_l)] * len(bounds_y), y1=[es_at(b) for b in bounds_y],
              line_color="white", line_width=3.4)
f_top.segment(x0=[rank_at(lab_left)], y0=[es_at(bounds_y[0])], x1=[rank_at(lab_left)],
              y1=[es_at(bounds_y[-1])], line_color="white", line_width=3.4)
f_top.quad(left=[rank_at(3995)], right=[rank_at(4445)], top=[es_at(2.5)], bottom=[es_at(1008)],
           fill_color="white", line_color=None)
f_top.quad(left=[rank_at(4000), rank_at(4206)], right=[rank_at(4200), rank_at(4440)],
           top=[es_at(-80)] * 2, bottom=[es_at(2.5)] * 2, fill_color="#D6D6D6", line_color=None)
tops = [8 + pitch * k for k in range(n_rows)]
fills = ["#F2F2F2" if k % 2 == 0 else "#E5E5E5" for k in range(n_rows)]
for l, r in ((4000, 4200), (4206, 4440)):
    f_top.quad(left=[rank_at(l)] * n_rows, right=[rank_at(r)] * n_rows,
               top=[es_at(t) for t in tops], bottom=[es_at(t + 78) for t in tops],
               fill_color=fills, line_color=None)
centers = [es_at(t + 39) for t in tops]
f_top.text(x=[rank_at(lab_right_text)] * n_rows, y=centers, text=GENE_SETS, text_color=SET_COLORS,
           text_align="right", text_baseline="middle", text_font=value(FONT),
           text_font_size=value("42px"))
f_top.text(x=[rank_at(4100)] * n_rows, y=centers, text=PVALUES, text_color="black",
           text_align="center", text_baseline="middle", text_font=value(FONT),
           text_font_size=value("42px"))
f_top.text(x=[rank_at(4323)] * n_rows, y=centers, text=PADJUST, text_color="black",
           text_align="center", text_baseline="middle", text_font=value(FONT),
           text_font_size=value("42px"))

# ---------------- rug panel
f_rug = make_fig(350, Range1d(0, n_rows), 18, 9)
ra = f_rug.yaxis[0]
ra.ticker = FixedTicker(ticks=[])
ra.axis_line_color = AXIS_COLOR
ra.axis_line_width = 5
ra.major_tick_line_color = None
ra.minor_tick_line_color = None
ra.major_label_text_font_size = "0px"
for row_i, set_i in enumerate(RUG_ORDER):
    hits = HITS[set_i]
    y_top = n_rows - row_i
    f_rug.segment(x0=hits, y0=[y_top - 1] * len(hits), x1=hits, y1=[y_top] * len(hits),
                  line_color=SET_COLORS[set_i], line_width=3.5)

# ---------------- bottom panel: ranked list metric
bot_lo, bot_hi = metric_at(2472), metric_at(1709)
f_bot = make_fig(848, Range1d(bot_lo, bot_hi), 8, 193, x_axis=True)
style_axis(f_bot.yaxis[0], METRIC_TICKS, METRIC_TICK_LABELS, 12)
xa = f_bot.xaxis[0]
style_axis(xa, RANK_TICKS, [str(t) for t in RANK_TICKS], 20)
xa.axis_label = "Rank in Ordered Dataset"
xa.axis_label_text_font = FONT
xa.axis_label_text_font_size = "63px"
xa.axis_label_text_font_style = "normal"
xa.axis_label_text_color = "black"
xa.axis_label_standoff = 12
f_bot.segment(x0=GRID_RANKS, y0=[bot_lo] * len(GRID_RANKS), x1=GRID_RANKS,
              y1=[bot_hi] * len(GRID_RANKS), line_color="#EBEBEB", line_width=5)
f_bot.varea(x=METRIC_RANK, y1=[0] * len(METRIC_RANK), y2=METRIC_VALUE, fill_color="#BEBEBE")
f_bot.add_layout(Title(text="CSDN @恩喜玛生物", align="right", text_font="Noto Sans CJK SC",
                       text_font_size="18px", text_font_style="normal", text_color="#AAAAAA",
                       standoff=0), "below")

# ---------------- y-axis titles (left strip)
f_title = figure(width=TITLE_W, height=TOTAL_H, x_range=Range1d(0, TITLE_W),
                 y_range=Range1d(0, TOTAL_H), toolbar_location=None, output_backend="svg",
                 x_axis_location=None, y_axis_location=None, min_border=0)
f_title.outline_line_color = None
f_title.grid.visible = False
f_title.text(x=[66, 63], y=[TOTAL_H - 692 * SY, TOTAL_H - 2088 * SY],
             text=["Running Enrichment Score", "Ranked List Metric"], angle=math.pi / 2,
             text_align="center", text_baseline="middle", text_font=value(FONT),
             text_font_size=value("63px"), text_color="black")

layout = row(f_title, column(f_top, f_rug, f_bot))
open("out.html", "w").write(file_html(layout, INLINE))
